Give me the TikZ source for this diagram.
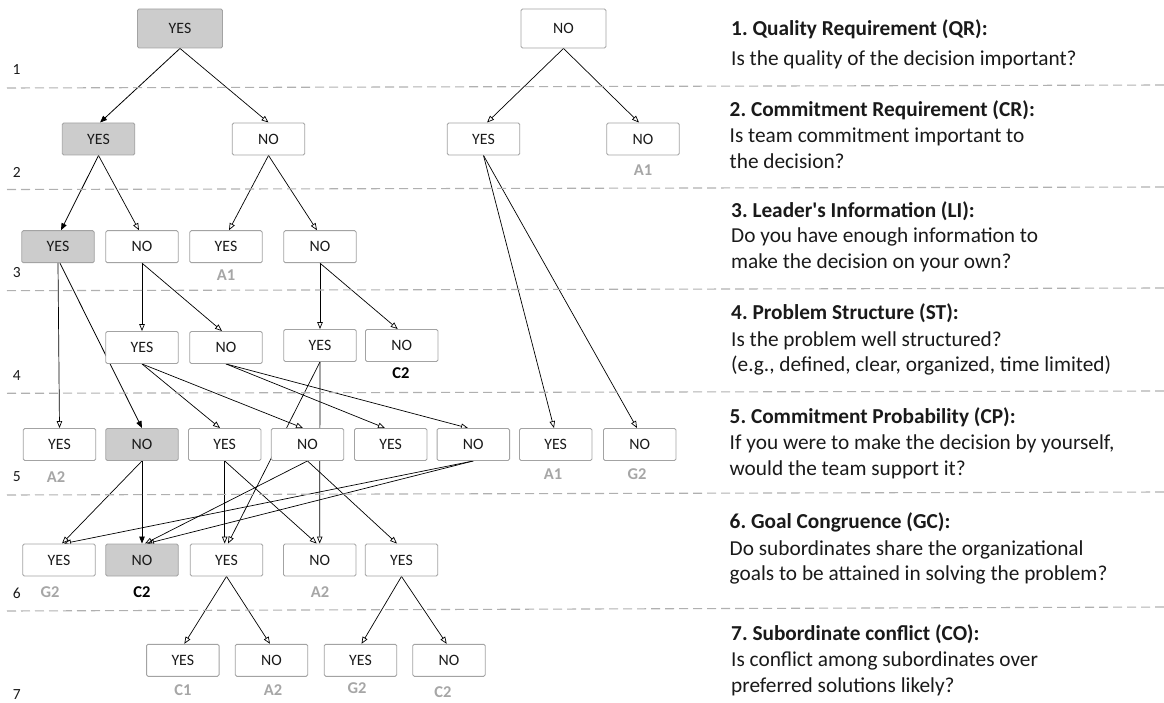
\documentclass[tikz,border=0pt]{standalone}
\usepackage{fontspec}
\setmainfont{Carlito}
\usetikzlibrary{arrows.meta}
\definecolor{hotgray}{HTML}{CCCCCC}
\definecolor{boxgray}{HTML}{A3A3A3}
\definecolor{taggray}{HTML}{A6A6A6}
\definecolor{sepgray}{HTML}{B0B0B0}
\definecolor{ink}{HTML}{1A1A1A}
\pgfdeclarelayer{bg}
\pgfsetlayers{bg,main}
\frenchspacing

\begin{document}
\begin{tikzpicture}[x=1pt,y=-1pt,
  box/.style={draw=boxgray, line width=0.9pt, fill=white, rounded corners=1.5pt,
    minimum width=72.5pt, minimum height=32pt, inner sep=0pt,
    font=\fontsize{15.8}{18}\selectfont, text=ink},
  hot/.style={box, fill=hotgray},
  big/.style={minimum width=85pt, minimum height=39pt},
  edge/.style={draw=black, line width=0.7pt, -{Triangle[open, length=7pt, width=5.5pt]}},
  fedge/.style={draw=black, line width=0.8pt, -{Triangle[length=7pt, width=5.5pt]}},
  tag/.style={font=\bfseries\fontsize{16.5}{18}\selectfont, text=taggray, inner sep=0pt},
  keytag/.style={tag, text=black},
  rownum/.style={font=\fontsize{15.5}{18}\selectfont, text=ink, inner sep=0pt},
  sep/.style={draw=sepgray, line width=1.1pt, dash pattern=on 9pt off 5pt},
  head/.style={anchor=base west, font=\bfseries\fontsize{21.3}{26}\selectfont, text=ink, inner sep=0pt},
  body/.style={anchor=base west, align=left, font=\fontsize{21.3}{25.5}\selectfont, text=ink, inner sep=0pt}
]
\useasboundingbox (0,0) rectangle (1164,703);

% level separators
\draw[sep] (7,88) -- (1164,85);
\draw[sep] (7,189.5) -- (1164,187);
\draw[sep] (7,290.7) -- (1164,288);
\draw[sep] (7,393.3) -- (1164,391);
\draw[sep] (7,495) -- (1164,492);
\draw[sep] (7,611) -- (1164,607);

% row numbers
\node[rownum] (r1) at (16.5,70) {1};
\node[rownum] (r2) at (16.7,172) {2};
\node[rownum] (r3) at (16.7,273) {3};
\node[rownum] (r4) at (16.7,376) {4};
\node[rownum] (r5) at (16.7,477) {5};
\node[rownum] (r6) at (16.7,593) {6};
\node[rownum] (r7) at (16.7,695) {7};

% level 1
\node[hot,big] (qy) at (180,28.5) {YES};
\node[box,big] (qn) at (563.5,28.5) {NO};
% level 2
\node[hot] (a) at (98.5,139) {YES};
\node[box] (b) at (268.5,139) {NO};
\node[box] (c) at (483.5,139) {YES};
\node[box] (d) at (643,139) {NO};
% level 3
\node[hot] (e) at (58,246.7) {YES};
\node[box] (f) at (142,246.7) {NO};
\node[box] (g) at (226,246.7) {YES};
\node[box] (h) at (320,246.7) {NO};
% level 4
\node[box] (i) at (142,347.5) {YES};
\node[box] (j) at (226,347.5) {NO};
\node[box] (k) at (320,345.5) {YES};
\node[box] (l) at (401.7,345.5) {NO};
% level 5
\node[box] (m) at (59.5,444.5) {YES};
\node[hot] (n) at (142,444.5) {NO};
\node[box] (o) at (224.7,444.5) {YES};
\node[box] (p) at (307.5,444.5) {NO};
\node[box] (q) at (390.7,444.5) {YES};
\node[box] (r) at (473.3,444.5) {NO};
\node[box] (s) at (555.7,444.5) {YES};
\node[box] (t) at (639.7,444.5) {NO};
% level 6
\node[box] (u) at (59,560) {YES};
\node[hot] (v) at (142,560) {NO};
\node[box] (w) at (226.5,560) {YES};
\node[box] (x) at (319.7,560) {NO};
\node[box] (z) at (401.5,560) {YES};
% level 7
\node[box] (c1) at (182.8,660.3) {YES};
\node[box] (c2) at (271.5,660.3) {NO};
\node[box] (c3) at (360.5,660.3) {YES};
\node[box] (c4) at (449,660.3) {NO};

% outcome tags
\node[tag] (t1) at (643,170) {A1};
\node[tag] (t2) at (226,275) {A1};
\node[keytag] (t3) at (401,373) {C2};
\node[tag] (t4) at (56,477) {A2};
\node[tag] (t5) at (553,474) {A1};
\node[tag] (t6) at (637,474) {G2};
\node[tag] (t7) at (50,592) {G2};
\node[keytag] (t8) at (142,592) {C2};
\node[tag] (t9) at (320,592) {A2};
\node[tag] (t10) at (183,690) {C1};
\node[tag] (t11) at (273,690) {A2};
\node[tag] (t12) at (357,688) {G2};
\node[tag] (t13) at (443,692) {C2};

% connectors, kept beneath the boxes
\begin{pgfonlayer}{bg}
\draw[fedge] (qy.south) -- ([xshift=1.5pt]a.north);
\draw[edge] (qy.south) -- (b.north);
\draw[edge] (qn.south) -- ([xshift=3.5pt]c.north);
\draw[edge] (qn.south) -- ([xshift=-4pt]d.north);

\draw[fedge] (a.south) -- ([xshift=3pt]e.north);
\draw[edge] (a.south) -- ([xshift=-3pt]f.north);
\draw[edge] (b.south) -- ([xshift=3pt]g.north);
\draw[edge] (b.south) -- ([xshift=-3pt]h.north);
\draw[edge] (c.south) -- ([xshift=-1.7pt]s.north);
\draw[edge] (c.south) -- ([xshift=-2.7pt]t.north);

\draw[edge] (e.south) -- (m.north);
\draw[fedge] ([xshift=2pt]e.south) -- (n.north);
\draw[edge] (f.south) -- (i.north);
\draw[edge] (f.south) -- ([xshift=-4pt]j.north);
\draw[edge] (h.south) -- (k.north);
\draw[edge] (h.south) -- ([xshift=-4pt]l.north);

\draw[edge] (i.south) -- ([xshift=-4.7pt]o.north);
\draw[edge] (i.south) -- ([xshift=-4.5pt]p.north);
\draw[edge] (j.south) -- ([xshift=-5.7pt]q.north);
\draw[edge] (j.south) -- ([xshift=-5.3pt]r.north);
\draw[edge] (k.south) -- ([xshift=1.5pt]w.north);
\draw[edge] (k.south) -- (x.north);

\draw[edge] (n.south) -- ([xshift=3pt]u.north);
\draw[fedge] (n.south) -- (v.north);
\draw[edge] (o.south) -- (o.south |- w.north);
\draw[edge] (o.south) -- ([xshift=-3pt]x.north);
\draw[edge] (p.south) -- ([xshift=3pt]v.north);
\draw[edge] (p.south) -- ([xshift=-4.5pt]z.north);
\draw[edge] (r.south) -- ([xshift=5pt]u.north);
\draw[edge] (r.south) -- ([xshift=5pt]v.north);

\draw[edge] (w.south) -- ([xshift=1.5pt]c1.north);
\draw[edge] (w.south) -- ([xshift=-1.5pt]c2.north);
\draw[edge] (z.south) -- ([xshift=1pt]c3.north);
\draw[edge] (z.south) -- ([xshift=-2.3pt]c4.north);
\end{pgfonlayer}

% question legend (body nodes sit on the baseline of their last line)
\node[head] (h1) at (731,35.7) {1. Quality Requirement (QR):};
\node[body] (b1) at (731,66) {Is the quality of the decision important?};
\node[head] (h2) at (729.5,116.7) {2. Commitment Requirement (CR):};
\node[body] (b2) at (729.5,168.3) {Is team commitment important to\\the decision?};
\node[head] (h3) at (731,217.3) {3. Leader\textquotesingle s Information (LI):};
\node[body] (b3) at (731,268.3) {Do you have enough information to\\make the decision on your own?};
\node[head] (h4) at (731,319.3) {4. Problem Structure (ST):};
\node[body] (b4) at (731,371.7) {Is the problem well structured?\\(e.g., defined, clear, organized, time limited)};
\node[head] (h5) at (729.5,423.3) {5. Commitment Probability (CP):};
\node[body] (b5) at (729.5,475) {If you were to make the decision by yourself,\\would the team support it?};
\node[head] (h6) at (729.5,528.3) {6. Goal Congruence (GC):};
\node[body] (b6) at (729.5,580.7) {Do subordinates share the organizational\\goals to be attained in solving the problem?};
\node[head] (h7) at (731,640.7) {7. Subordinate conflict (CO):};
\node[body] (b7) at (731,692.3) {Is conflict among subordinates over\\preferred solutions likely?};
\end{tikzpicture}
\end{document}
